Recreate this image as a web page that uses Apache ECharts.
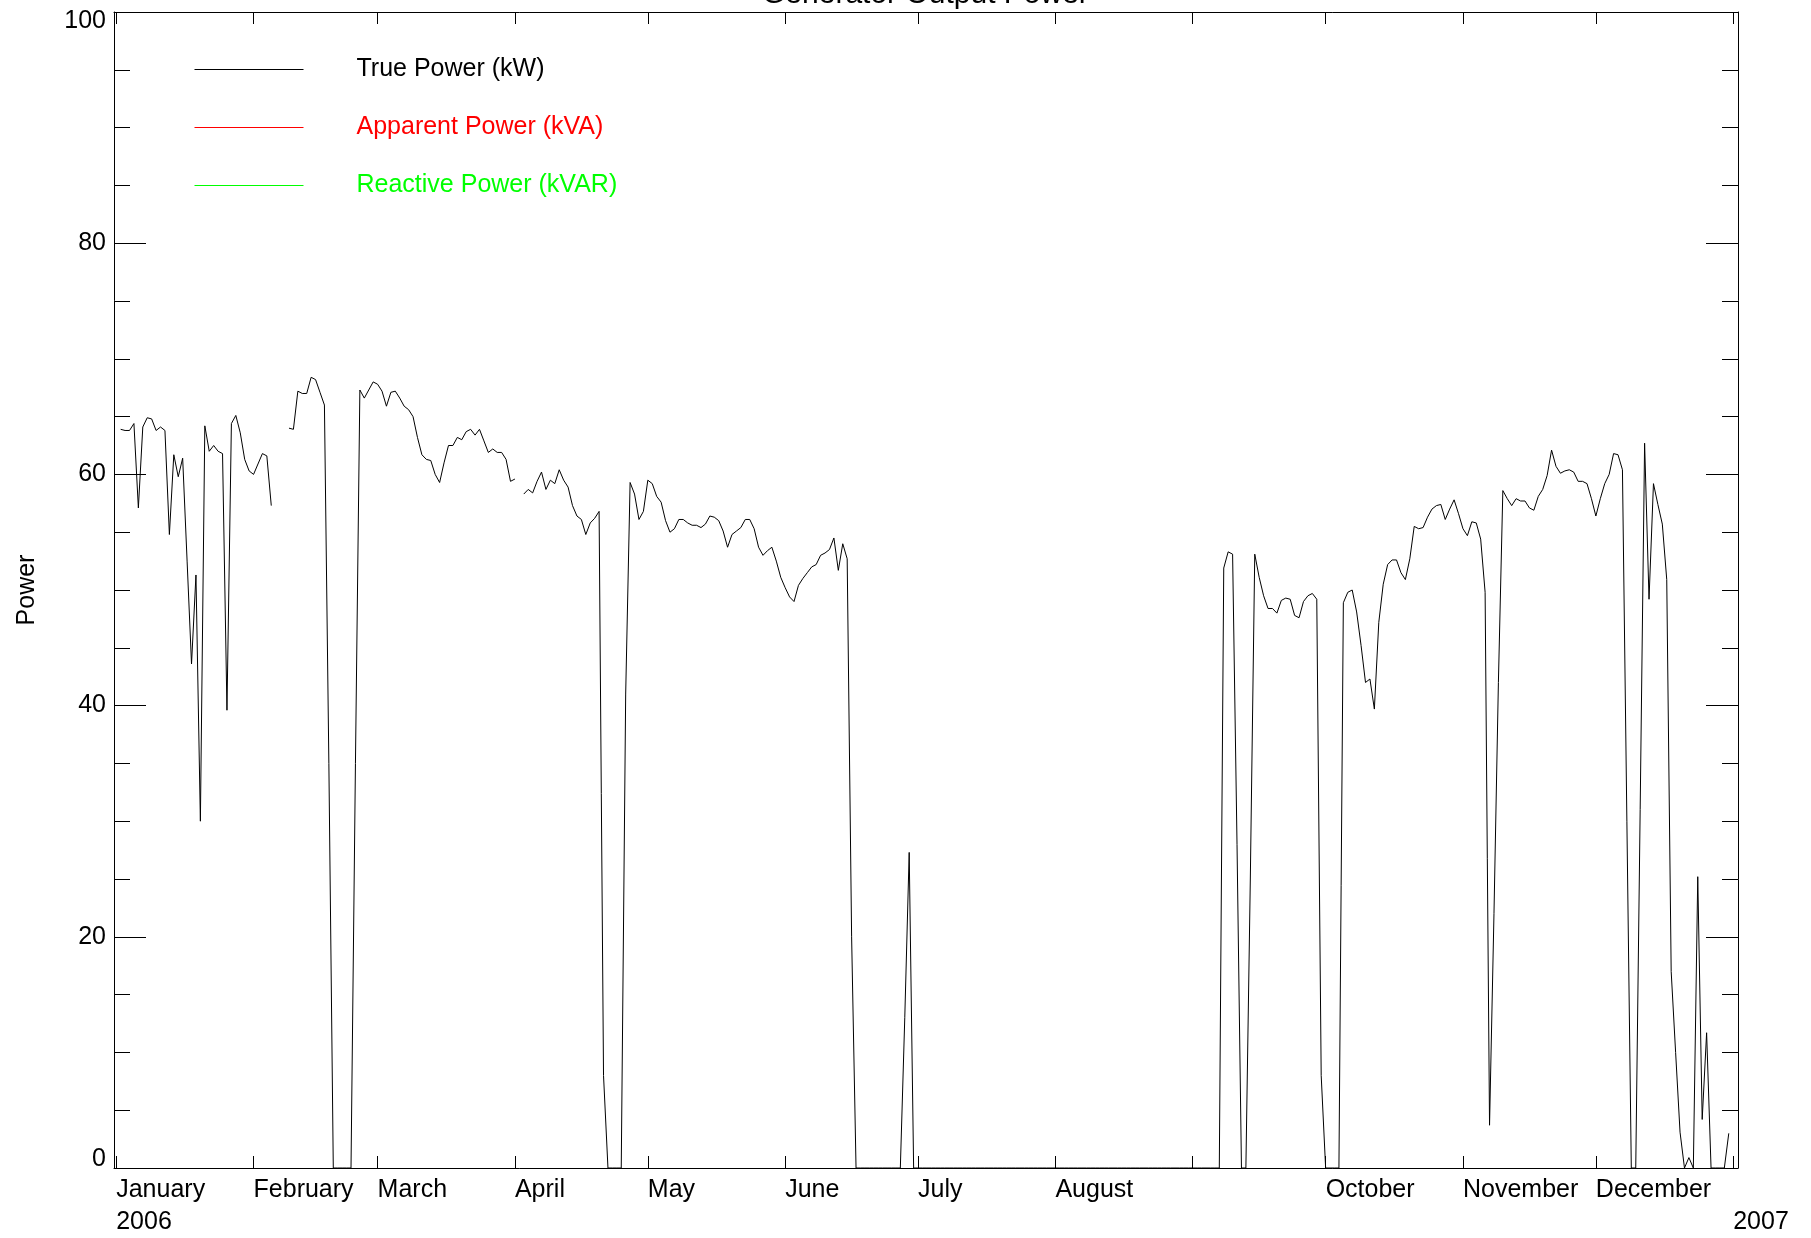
<!DOCTYPE html>
<html>
<head>
<meta charset="utf-8">
<script src="https://cdn.jsdelivr.net/npm/echarts@6/dist/echarts.min.js"></script>
<style>
html,body{margin:0;padding:0;background:#ffffff;}
#chart{width:1811px;height:1238px;}
</style>
</head>
<body>
<div id="chart"></div>
<script>
const FONT = "'Liberation Sans', Arial, Helvetica, sans-serif";
const chartTitle = 'Generator Output Power';
const yAxisName = 'Power';
const seriesNames = ['True Power (kW)', 'Apparent Power (kVA)', 'Reactive Power (kVAR)'];
const seriesColors = ['#000000', '#ff0000', '#00ff00'];

// x tick positions: first day of each month of 2006 and 1 Jan 2007
const tickYears  = [2006,2006,2006,2006,2006,2006,2006,2006,2006,2006,2006,2006,2007];
const tickMonths = [0,1,2,3,4,5,6,7,8,9,10,11,0];
const tickLabels = ['January\n2006','February','March','April','May','June','July','August','','October','November','December','\n2007'];

// y ticks
const yTickLabels = [0, 20, 40, 60, 80, 100];

// True power (kW), daily values, index = day of month - 1
const janKW = [null,63.9,63.8,63.8,64.4,57.1,64.1,64.9,64.8,63.8,64.1,63.8,54.8,61.7,59.8,61.4,52.5,43.6,51.3,30.0,64.2,62.0,62.5,62.0,61.8,39.6,64.4,65.1,63.6,61.3,60.3];
const febKW = [60.0,60.9,61.8,61.6,57.3,null,null,null,64.0,63.9,67.2,67.0,67.0,68.4,68.2,67.1,66.0,35,0,0,0,0,0,35,67.3,66.6,67.3,68.0];
const marKW = [67.8,67.2,65.9,67.1,67.2,66.6,65.9,65.6,65.0,63.2,61.7,61.3,61.2,60.0,59.3,61.0,62.5,62.5,63.2,63.0,63.7,63.9,63.4,63.9,62.9,61.9,62.2,61.9,61.9,61.3,59.4];
const aprKW = [59.6,null,58.3,58.7,58.4,59.4,60.2,58.7,59.5,59.2,60.4,59.5,58.9,57.3,56.4,56.1,54.8,55.8,56.2,56.8,8,0,0,0,0,41,59.3,58.3,56.1,56.8];
const mayKW = [59.5,59.2,58.1,57.6,56.0,55.0,55.3,56.1,56.1,55.8,55.6,55.6,55.4,55.7,56.4,56.3,56.0,55.1,53.7,54.8,55.1,55.4,56.1,56.1,55.3,53.7,53.0,53.4,53.7,52.5,51.1];
const junKW = [50.2,49.4,49.0,50.4,51.0,51.5,52.0,52.2,53.0,53.2,53.5,54.5,51.7,54.0,52.7,20,0,0,0,0,0,0,0,0,0,0,0,13,27.3,0];
const julKW = [0,0,0,0,0,0,0,0,0,0,0,0,0,0,0,0,0,0,0,0,0,0,0,0,0,0,0,0,0,0,0];
const augKW = [0,0,0,0,0,0,0,0,0,0,0,0,0,0,0,0,0,0,0,0,0,0,0,0,0,0,0,0,0,0,0];
const sepKW = [0,0,0,0,0,0,0,51.9,53.3,53.1,28,0,0,25,53.1,51.1,49.5,48.4,48.4,48.0,49.1,49.3,49.2,47.8,47.6,49.0,49.5,49.7,49.2,8];
const octKW = [0,0,0,0,48.9,49.8,50.0,48.1,45.2,42.0,42.3,39.7,47.2,50.5,52.2,52.6,52.6,51.5,50.9,52.7,55.5,55.3,55.4,56.3,57.0,57.3,57.4,56.1,57.0,57.8,56.6];
const novKW = [55.3,54.7,55.9,55.8,54.4,49.8,3.7,22,42,58.6,57.9,57.3,57.9,57.7,57.7,57.1,56.9,58.1,58.7,59.9,62.1,60.7,60.1,60.3,60.4,60.2,59.4,59.4,59.2,57.9];
const decKW = [56.4,57.9,59.2,60.0,61.8,61.7,60.4,30,0,0,31,62.7,49.2,59.2,57.4,55.7,50.9,17.0,10,3.1,0,0.9,0,25.2,4.2,11.7,0,0,0,0,3.0];

const apparentKVA = [];
const reactiveKVAR = [];

const monthlyKW = [janKW,febKW,marKW,aprKW,mayKW,junKW,julKW,augKW,sepKW,octKW,novKW,decKW];

const trueData = [];
monthlyKW.forEach(function (arr, m) {
  arr.forEach(function (v, i) {
    trueData.push([Date.UTC(2006, m, i + 1), v]);
  });
});

const tickValues = tickYears.map(function (y, i) { return Date.UTC(y, tickMonths[i], 1); });
const xMin = Date.UTC(2005, 11, 31, 12);
const xMax = Date.UTC(2007, 0, 2, 2);

function xLabel(value) {
  let best = -1, bd = Infinity;
  for (let i = 0; i < tickValues.length; i++) {
    const d = Math.abs(tickValues[i] - value);
    if (d < bd) { bd = d; best = i; }
  }
  return (best >= 0 && bd < 86400000) ? tickLabels[best] : '';
}

const chart = echarts.init(document.getElementById('chart'), null, {renderer: 'canvas'});

const baseX = {
  type: 'value',
  min: xMin,
  max: xMax,
  scale: true,
  splitLine: {show: false},
  minorTick: {show: false},
  axisLine: {show: true, onZero: false, lineStyle: {color: '#000000', width: 1}},
  axisTick: {show: true, inside: true, length: 12, customValues: tickValues, lineStyle: {color: '#000000', width: 1}}
};

const baseY = {
  type: 'value',
  min: 0,
  max: 100,
  interval: 20,
  splitLine: {show: false},
  axisLine: {show: true, onZero: false, lineStyle: {color: '#000000', width: 1}},
  axisTick: {show: true, inside: true, length: 32, lineStyle: {color: '#000000', width: 1}},
  minorTick: {show: true, splitNumber: 4, length: 16, lineStyle: {color: '#000000', width: 1}}
};

const option = {
  animation: false,
  backgroundColor: '#ffffff',
  title: {
    text: chartTitle,
    left: 762,
    top: -20,
    padding: 0,
    textStyle: {fontSize: 30, fontWeight: 'normal', color: '#000000', fontFamily: FONT}
  },
  legend: {
    orient: 'vertical',
    left: 194,
    top: 54.5,
    padding: 0,
    itemWidth: 109,
    itemHeight: 30,
    itemGap: 28,
    selectedMode: false,
    itemStyle: {opacity: 0, borderWidth: 0},
    lineStyle: {width: 1},
    data: seriesNames.map(function (n, i) {
      return {name: n, textStyle: {color: seriesColors[i]}};
    }),
    textStyle: {fontSize: 25, fontFamily: FONT, lineHeight: 30, padding: [0, 0, 0, 48]}
  },
  grid: {left: 114, right: 73, top: 12, bottom: 68, containLabel: false},
  xAxis: [
    Object.assign({}, baseX, {
      position: 'bottom',
      axisLabel: {
        show: true,
        customValues: tickValues,
        formatter: xLabel,
        align: 'left',
        verticalAlign: 'top',
        margin: 6,
        fontSize: 25,
        lineHeight: 32,
        color: '#000000',
        fontFamily: FONT,
        hideOverlap: false,
        showMinLabel: true,
        showMaxLabel: true
      }
    }),
    Object.assign({}, baseX, {
      position: 'top',
      axisLabel: {show: false}
    })
  ],
  yAxis: [
    Object.assign({}, baseY, {
      position: 'left',
      name: yAxisName,
      nameLocation: 'middle',
      nameGap: 74,
      nameRotate: 90,
      nameTextStyle: {fontSize: 25, color: '#000000', fontFamily: FONT},
      axisLabel: {
        show: true,
        margin: 8,
        fontSize: 25,
        color: '#000000',
        fontFamily: FONT,
        showMinLabel: true,
        showMaxLabel: true,
        formatter: function (v) {
          if (v === 100) return '{top|' + v + '}';
          if (v === 0) return '{bot|' + v + '}';
          return yTickLabels.indexOf(v) >= 0 ? String(v) : '';
        },
        rich: {
          top: {fontSize: 25, fontFamily: FONT, color: '#000000', padding: [18, 0, 0, 0]},
          bot: {fontSize: 25, fontFamily: FONT, color: '#000000', padding: [0, 0, 18, 0]}
        }
      }
    }),
    Object.assign({}, baseY, {
      position: 'right',
      axisLabel: {show: false}
    })
  ],
  series: [
    {
      name: seriesNames[0],
      type: 'line',
      xAxisIndex: 0,
      yAxisIndex: 0,
      data: trueData,
      symbol: 'none',
      showSymbol: false,
      connectNulls: false,
      clip: true,
      color: seriesColors[0],
      lineStyle: {color: seriesColors[0], width: 1}
    },
    {
      name: seriesNames[1],
      type: 'line',
      data: apparentKVA,
      symbol: 'none',
      showSymbol: false,
      color: seriesColors[1],
      lineStyle: {color: seriesColors[1], width: 1}
    },
    {
      name: seriesNames[2],
      type: 'line',
      data: reactiveKVAR,
      symbol: 'none',
      showSymbol: false,
      color: seriesColors[2],
      lineStyle: {color: seriesColors[2], width: 1}
    }
  ]
};

chart.setOption(option);
</script>
</body>
</html>
